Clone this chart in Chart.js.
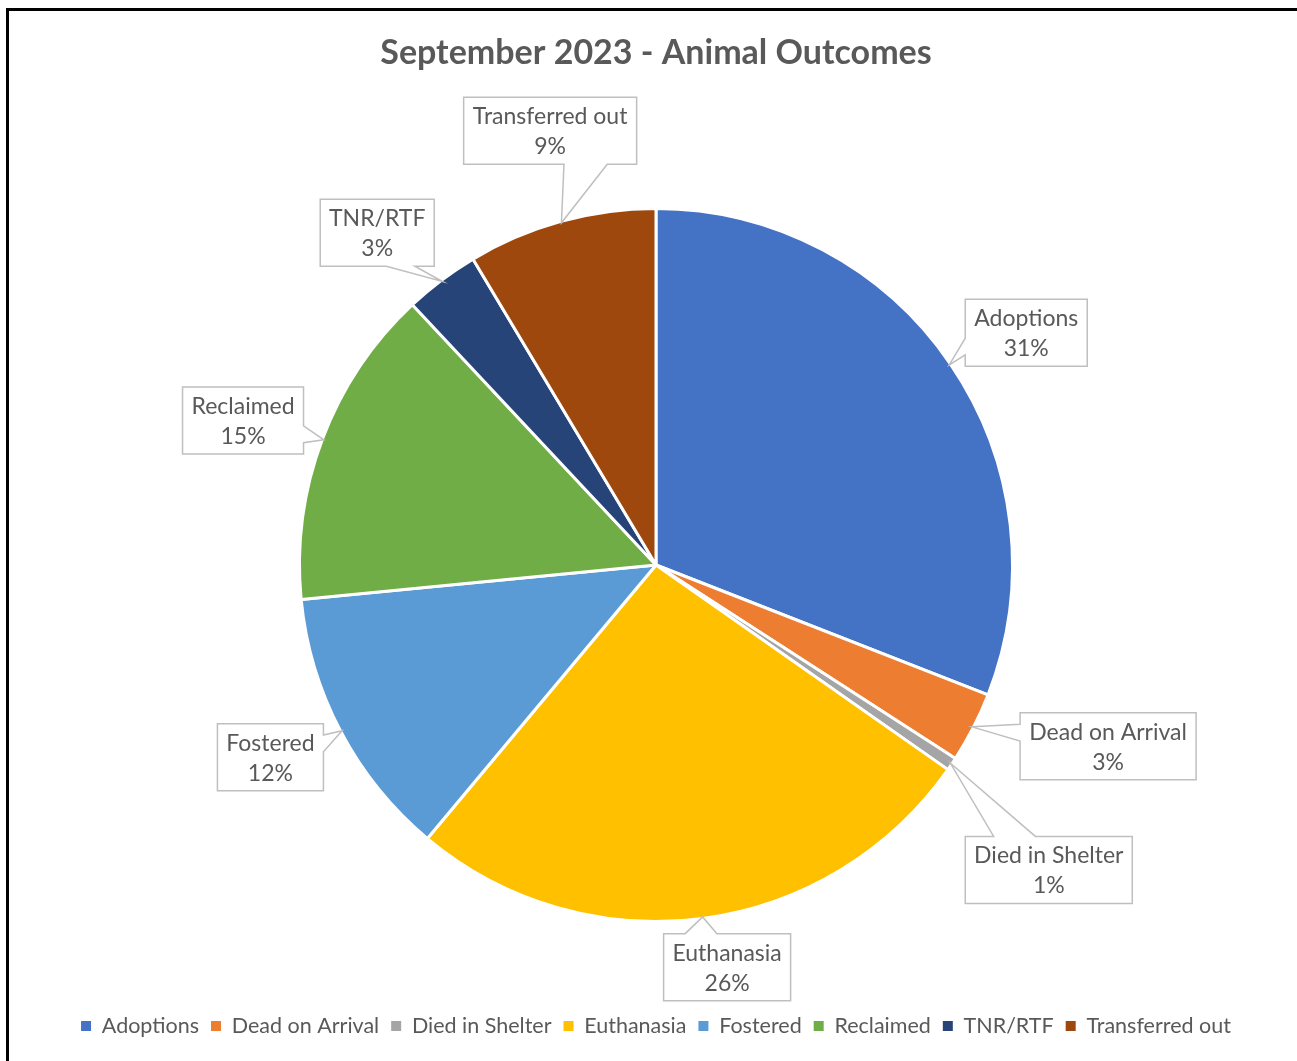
<!DOCTYPE html>
<html>
<head>
<meta charset="utf-8">
<script src="https://cdn.jsdelivr.net/npm/chart.js@4.4.0/dist/chart.umd.min.js"></script>
<style>
html,body{margin:0;padding:0;background:#fff;overflow:hidden;}
#wrap{position:relative;width:1297px;height:1061px;}
#frame{position:absolute;left:6px;top:8px;width:1400px;height:1200px;border-left:3px solid #000;border-top:3px solid #000;box-sizing:border-box;pointer-events:none;}
canvas{position:absolute;left:0;top:0;}
</style>
</head>
<body>
<div id="wrap"><canvas id="c" width="1297" height="1061"></canvas><div id="frame"></div></div>
<script>
// ---- data ----
const categories = ['Adoptions','Dead on Arrival','Died in Shelter','Euthanasia','Fostered','Reclaimed','TNR/RTF','Transferred out'];
const outcomeCounts = [155, 16, 3, 132, 62, 73, 17, 43];
const sliceColors = ['#4472C4','#ED7D31','#A5A5A5','#FFC000','#5B9BD5','#70AD47','#264478','#9E480E'];
const chartTitle = 'September 2023 - Animal Outcomes';

// ---- callout layout (pixel nudges from default radial position) ----
const calloutNudges = [[11,13],[65,-17],[32,62],[14,-29],[-1,-11],[-6,9],[-17,15],[10,-15]];
const FONT = 'Lato';
const LABEL_SIZE = 23;

const calloutPlugin = {
  id: 'callouts',
  afterDatasetsDraw(chart) {
    const meta = chart.getDatasetMeta(0);
    const ctx = chart.ctx;
    const data = chart.data.datasets[0].data;
    const labels = chart.data.labels;
    const total = data.reduce((a, b) => a + b, 0);
    ctx.save();
    ctx.font = '400 ' + LABEL_SIZE + 'px ' + FONT;
    meta.data.forEach((arc, i) => {
      const p = arc.getProps(['x','y','startAngle','endAngle','outerRadius'], true);
      const mid = (p.startAngle + p.endAngle) / 2;
      const rTip = p.outerRadius - 1.5;
      const tipX = p.x + Math.cos(mid) * rTip, tipY = p.y + Math.sin(mid) * rTip;
      const d = p.outerRadius * 1.22;
      const cx = p.x + Math.cos(mid) * d + calloutNudges[i][0];
      const cy = p.y + Math.sin(mid) * d + calloutNudges[i][1];
      const lines = [labels[i], Math.round(data[i] / total * 100) + '%'];
      const tw = Math.max(...lines.map(s => ctx.measureText(s).width));
      const w = Math.round(tw + 18), h = 67;
      const L = cx - w / 2, T = cy - h / 2, R = cx + w / 2, B = cy + h / 2;
      const nx = (tipX - cx) / (w / 2), ny = (tipY - cy) / (h / 2);
      let side;
      if (Math.abs(nx) > Math.abs(ny)) side = nx < 0 ? 'left' : 'right';
      else side = ny < 0 ? 'top' : 'bottom';
      const hx = tipX < cx ? [L + 0.17 * w, L + 0.42 * w] : [L + 0.58 * w, L + 0.83 * w];
      const vy = tipY < cy ? [T + 0.17 * h, T + 0.42 * h] : [T + 0.58 * h, T + 0.83 * h];
      ctx.beginPath();
      ctx.moveTo(L, T);
      if (side === 'top') { ctx.lineTo(hx[0], T); ctx.lineTo(tipX, tipY); ctx.lineTo(hx[1], T); }
      ctx.lineTo(R, T);
      if (side === 'right') { ctx.lineTo(R, vy[0]); ctx.lineTo(tipX, tipY); ctx.lineTo(R, vy[1]); }
      ctx.lineTo(R, B);
      if (side === 'bottom') { ctx.lineTo(hx[1], B); ctx.lineTo(tipX, tipY); ctx.lineTo(hx[0], B); }
      ctx.lineTo(L, B);
      if (side === 'left') { ctx.lineTo(L, vy[1]); ctx.lineTo(tipX, tipY); ctx.lineTo(L, vy[0]); }
      ctx.closePath();
      ctx.fillStyle = '#FFFFFF';
      ctx.fill();
      ctx.lineWidth = 1.5;
      ctx.strokeStyle = '#BFBFBF';
      ctx.lineJoin = 'miter';
      ctx.stroke();
      ctx.fillStyle = '#595959';
      ctx.textAlign = 'center';
      ctx.textBaseline = 'middle';
      ctx.fillText(lines[0], cx, cy - 14);
      ctx.fillText(lines[1], cx, cy + 16);
    });
    ctx.restore();
  }
};

function build() {
  const base = (Chart.overrides.pie || Chart.overrides.doughnut).plugins.legend.labels.generateLabels;
  new Chart(document.getElementById('c'), {
    type: 'pie',
    data: {
      labels: categories,
      datasets: [{
        data: outcomeCounts,
        backgroundColor: sliceColors,
        borderColor: '#FFFFFF',
        borderWidth: 3,
        hoverOffset: 0,
        offset: 0
      }]
    },
    options: {
      responsive: false,
      animation: false,
      events: [],
      devicePixelRatio: 1,
      layout: { padding: { left: 15, right: 0, top: 0, bottom: 14.25 } },
      plugins: {
        tooltip: { enabled: false },
        title: {
          display: true,
          text: chartTitle,
          color: '#595959',
          font: { family: FONT, size: 34, weight: 'bold' },
          padding: { top: 32.6, bottom: 133.6 }
        },
        legend: {
          position: 'bottom',
          title: { display: true, text: '', font: { size: 10 }, padding: { top: 68.25, bottom: 0 } },
          labels: {
            color: '#595959',
            font: { family: FONT, size: 21.5 },
            boxWidth: 10,
            boxHeight: 10,
            padding: 12,
            generateLabels(chart) {
              return base(chart).map(it => Object.assign(it, { lineWidth: 0, strokeStyle: 'rgba(0,0,0,0)' }));
            }
          }
        }
      }
    },
    plugins: [calloutPlugin]
  });
}

Promise.all([
  document.fonts.load('400 23px ' + FONT),
  document.fonts.load('700 34px ' + FONT),
  document.fonts.load('400 21.5px ' + FONT)
]).then(build, build);
</script>
</body>
</html>
